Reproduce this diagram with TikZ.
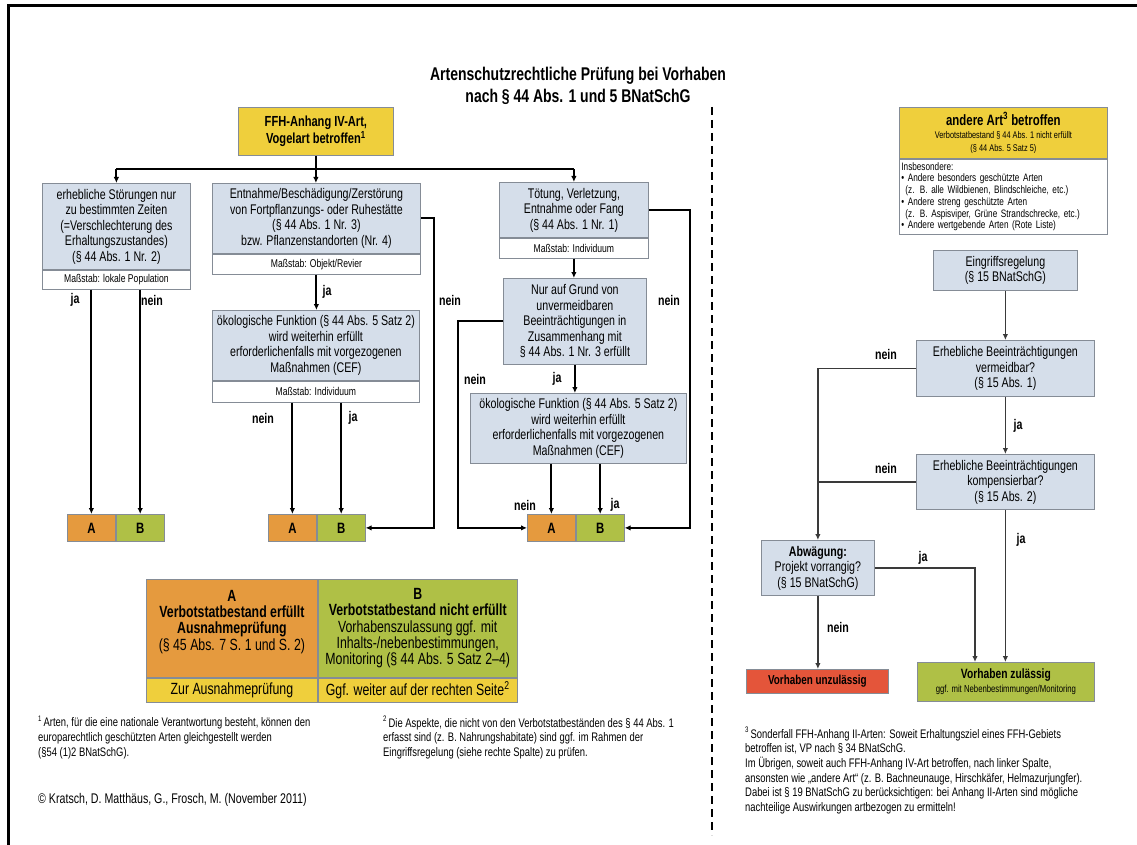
\documentclass[tikz,border=0pt]{standalone}
\usepackage{fontspec}
\setmainfont{Liberation Sans}[FakeStretch=0.76]
\usetikzlibrary{arrows.meta}
\definecolor{cblue}{HTML}{D5DEEA}
\definecolor{cyel}{HTML}{EFCF3C}
\definecolor{cora}{HTML}{E59A3E}
\definecolor{cgrn}{HTML}{AFC046}
\definecolor{cred}{HTML}{E4553A}
\definecolor{cbord}{HTML}{858C96}
\definecolor{cline}{HTML}{3A3A3A}
\newcommand\myfs[2]{\fontsize{#1}{#2}\selectfont}
\newcommand\fnmk[1]{\raisebox{0.42em}{\myfs{8}{8}#1}}
\begin{document}
\begin{tikzpicture}[x=1pt,y=-1pt,
  box/.style={draw=cbord,line width=0.8pt,fill=cblue,inner sep=0pt,anchor=north west,align=center,font=\myfs{14}{15.5}},
  sub/.style={box,fill=white,font=\myfs{11.3}{12}},
  yel/.style={box,fill=cyel},
  abA/.style={draw=cbord,line width=0.8pt,fill=cora,minimum width=48pt,minimum height=27pt,inner sep=0pt,anchor=north west,font=\bfseries\myfs{15}{16}},
  abB/.style={abA,fill=cgrn},
  leg/.style={box,font=\myfs{16.2}{16.3}},
  ln/.style={line width=2pt,black},
  arr/.style={ln,-{Latex[length=6pt,width=5.5pt]}},
  rln/.style={line width=1.3pt,cline},
  rarr/.style={rln,-{Latex[length=6pt,width=5.5pt]}},
  lab/.style={font=\bfseries\myfs{14}{15},inner sep=0pt},
  fn/.style={anchor=north west,align=left,inner sep=0pt,font=\myfs{12.4}{14.7}}
]
\useasboundingbox (0,0) rectangle (1137,845);
\fill[white] (0,0) rectangle (1137,845);
% frame and separator
\draw[line width=3pt] (8,845) -- (8,6) -- (1137,6);
\draw[line width=2.5pt,dash pattern=on 8pt off 5pt] (712,107) -- (712,835);
% title
\node[font=\bfseries\myfs{18.4}{22},align=center] (title) at (578,86) {Artenschutzrechtliche Prüfung bei Vorhaben\\nach § 44 Abs. 1 und 5 BNatSchG};

% ---------- left column ----------
\node[yel,minimum width=155pt,minimum height=48pt,font=\bfseries\myfs{14.6}{16.5}] (ffh) at (238,107) {FFH-Anhang IV-Art,\\Vogelart betroffen\textsuperscript{1}};

\node[box,minimum width=148pt,minimum height=86pt] (b1) at (42,183) {erhebliche Störungen nur\\zu bestimmten Zeiten\\(=Verschlechterung des\\Erhaltungszustandes)\\(§ 44 Abs. 1 Nr. 2)};
\node[sub,minimum width=148pt,minimum height=19pt] (b1s) at (b1.south west) {Maßstab: lokale Population};

\node[box,minimum width=208pt,minimum height=70pt] (b2) at (212,183) {Entnahme/Beschädigung/Zerstörung\\von Fortpflanzungs- oder Ruhestätte\\(§ 44 Abs. 1 Nr. 3)\\bzw. Pflanzenstandorten (Nr. 4)};
\node[sub,minimum width=208pt,minimum height=20pt] (b2s) at (b2.south west) {Maßstab: Objekt/Revier};

\node[box,minimum width=149pt,minimum height=55pt] (b3) at (499,182) {Tötung, Verletzung,\\Entnahme oder Fang\\(§ 44 Abs. 1 Nr. 1)};
\node[sub,minimum width=149pt,minimum height=20pt] (b3s) at (b3.south west) {Maßstab: Individuum};

\node[box,minimum width=143pt,minimum height=86pt] (b4) at (503,278) {Nur auf Grund von\\unvermeidbaren\\Beeinträchtigungen in\\Zusammenhang mit\\§ 44 Abs. 1 Nr. 3 erfüllt};

\node[box,minimum width=216pt,minimum height=70pt] (b5) at (470,393) {ökologische Funktion (§ 44 Abs. 5 Satz 2)\\wird weiterhin erfüllt\\erforderlichenfalls mit vorgezogenen\\Maßnahmen (CEF)};

\node[box,minimum width=207pt,minimum height=70pt] (b6) at (212,310) {ökologische Funktion (§ 44 Abs. 5 Satz 2)\\wird weiterhin erfüllt\\erforderlichenfalls mit vorgezogenen\\Maßnahmen (CEF)};
\node[sub,minimum width=207pt,minimum height=21pt] (b6s) at (b6.south west) {Maßstab: Individuum};

% A/B result boxes
\node[abA] (A1) at (67,514) {A};
\node[abB] (B1) at (A1.north east) {B};
\node[abA] (A2) at (268,514) {A};
\node[abB] (B2) at (A2.north east) {B};
\node[abA] (A3) at (527,514) {A};
\node[abB] (B3) at (A3.north east) {B};

% connectors left
\coordinate (hy) at (316,169);
\draw[ln] (b1.north |- hy) -- (b3.north |- hy);
\draw[arr] (ffh.south) -- (ffh.south |- b2.north);
\draw[arr] (b1.north |- hy) -- (b1.north);
\draw[arr] (b3.north |- hy) -- (b3.north);

\draw[arr] (A1.north |- b1s.south) -- (A1.north);
\draw[arr] (B1.north |- b1s.south) -- (B1.north);
\draw[arr] (b2s.south) -- (b2s.south |- b6.north);
\draw[arr] (b2.east) -- ++(13,0) |- (B2.east);
\draw[arr] (A2.north |- b6s.south) -- (A2.north);
\draw[arr] (B2.north |- b6s.south) -- (B2.north);
\draw[arr] (b3s.south) -- (b3s.south |- b4.north);
\draw[arr] (b3.east) -- ++(41,0) |- (B3.east);
\draw[arr] (b4.west) -- ++(-45,0) |- (A3.west);
\draw[arr] (b4.south) -- (b4.south |- b5.north);
\draw[arr] (A3.north |- b5.south) -- (A3.north);
\draw[arr] (B3.north |- b5.south) -- (B3.north);

% labels left
\node[lab] (l1) at (75,300) {ja};
\node[lab] (l2) at (152,300) {nein};
\node[lab] (l3) at (327,292) {ja};
\node[lab] (l4) at (450,300) {nein};
\node[lab] (l5) at (263,418) {nein};
\node[lab] (l6) at (353,418) {ja};
\node[lab] (l7) at (669,300) {nein};
\node[lab] (l8) at (475,379) {nein};
\node[lab] (l9) at (557,379) {ja};
\node[lab] (l10) at (525,505) {nein};
\node[lab] (l11) at (615,505) {ja};

% legend
\node[leg,fill=cora,minimum width=171pt,minimum height=98pt] (LA) at (146,579) {\textbf{A}\\\textbf{Verbotstatbestand erfüllt}\\\textbf{Ausnahmeprüfung}\\(§ 45 Abs. 7 S. 1 und S. 2)\\[0pt]\mbox{}};
\node[leg,fill=cgrn,minimum width=199pt,minimum height=98pt] (LB) at (LA.north east) {\textbf{B}\\\textbf{Verbotstatbestand nicht erfüllt}\\Vorhabenszulassung ggf. mit\\Inhalts-/nebenbestimmungen,\\Monitoring (§ 44 Abs. 5 Satz 2–4)};
\node[leg,fill=cyel,minimum width=171pt,minimum height=24pt] (LA2) at (LA.south west) {Zur Ausnahmeprüfung};
\node[leg,fill=cyel,minimum width=199pt,minimum height=24pt] (LB2) at (LB.south west) {Ggf. weiter auf der rechten Seite\textsuperscript{2}};

% footnotes left
\node[fn] (fn1) at (38,716) {\fnmk{1}\,Arten, für die eine nationale Verantwortung besteht, können den\\europarechtlich geschützten Arten gleichgestellt werden\\(§54 (1)2 BNatSchG).};
\node[fn] (fn2) at (383,716) {\fnmk{2}\,Die Aspekte, die nicht von den Verbotstatbeständen des § 44 Abs. 1\\erfasst sind (z. B. Nahrungshabitate) sind ggf. im Rahmen der\\Eingriffsregelung (siehe rechte Spalte) zu prüfen.};
\node[fn,font=\myfs{14}{15}] (copy) at (38,793) {© Kratsch, D. Matthäus, G., Frosch, M. (November 2011)};

% ---------- right column ----------
\node[yel,minimum width=208pt,minimum height=51pt,font=\myfs{9.7}{13}] (AA) at (899,107) {{\bfseries\myfs{15}{16.5}andere Art\textsuperscript{3} betroffen}\\Verbotstatbestand § 44 Abs. 1 nicht erfüllt\\(§ 44 Abs. 5 Satz 5)};
\node[sub,minimum height=75pt,text width=204pt,inner xsep=2pt,align=left,font=\myfs{10.8}{11.7}] (AAs) at (AA.south west) {Insbesondere:\\• Andere besonders geschützte Arten\\\hspace*{4pt}(z. B. alle Wildbienen, Blindschleiche, etc.)\\• Andere streng geschützte Arten\\\hspace*{4pt}(z. B. Aspisviper, Grüne Strandschrecke, etc.)\\• Andere wertgebende Arten (Rote Liste)};

\node[box,minimum width=144pt,minimum height=40pt,font=\myfs{14}{14.5}] (ER) at (933,250) {Eingriffsregelung\\(§ 15 BNatSchG)};
\node[box,minimum width=178pt,minimum height=56pt] (V1) at (916,340) {Erhebliche Beeinträchtigungen\\vermeidbar?\\(§ 15 Abs. 1)};
\node[box,minimum width=178pt,minimum height=55pt] (V2) at (916,454) {Erhebliche Beeinträchtigungen\\kompensierbar?\\(§ 15 Abs. 2)};
\node[box,minimum width=113pt,minimum height=55pt] (AW) at (761,540) {\textbf{Abwägung:}\\Projekt vorrangig?\\(§ 15 BNatSchG)};
\node[box,fill=cred,minimum width=142pt,minimum height=24pt,font=\bfseries\myfs{13}{14}] (VU) at (746,669) {Vorhaben unzulässig};
\node[box,fill=cgrn,minimum width=177pt,minimum height=39pt,font=\myfs{10.2}{14}] (VZ) at (917,662) {{\bfseries\myfs{13.5}{14}Vorhaben zulässig}\\ggf. mit Nebenbestimmungen/Monitoring};

% connectors right
\coordinate (jx) at (975,0);
\draw[rarr] (ER.south) -- (ER.south |- V1.north);
\draw[rarr] (V1.west) -| (AW.north);
\draw[rln] (V2.west) -- (V2.west -| AW.north);
\draw[rarr] (V1.south) -- (V1.south |- V2.north);
\draw[rarr] (V2.south) -- (V2.south |- VZ.north);
\draw[rarr] (AW.east) -| (jx |- VZ.north);
\draw[rarr] (AW.south) -- (AW.south |- VU.north);

% labels right
\node[lab] (r1) at (886,354) {nein};
\node[lab] (r2) at (1018,426) {ja};
\node[lab] (r3) at (886,468) {nein};
\node[lab] (r4) at (1021,540) {ja};
\node[lab] (r5) at (923,558) {ja};
\node[lab] (r6) at (838,627) {nein};

% footnote right
\node[fn] (fn3) at (745,727) {\fnmk{3}\,Sonderfall FFH-Anhang II-Arten: Soweit Erhaltungsziel eines FFH-Gebiets\\betroffen ist, VP nach § 34 BNatSchG.\\Im Übrigen, soweit auch FFH-Anhang IV-Art betroffen, nach linker Spalte,\\ansonsten wie „andere Art“ (z. B. Bachneunauge, Hirschkäfer, Helmazurjungfer).\\Dabei ist § 19 BNatSchG zu berücksichtigen: bei Anhang II-Arten sind mögliche\\nachteilige Auswirkungen artbezogen zu ermitteln!};
\end{tikzpicture}
\end{document}
